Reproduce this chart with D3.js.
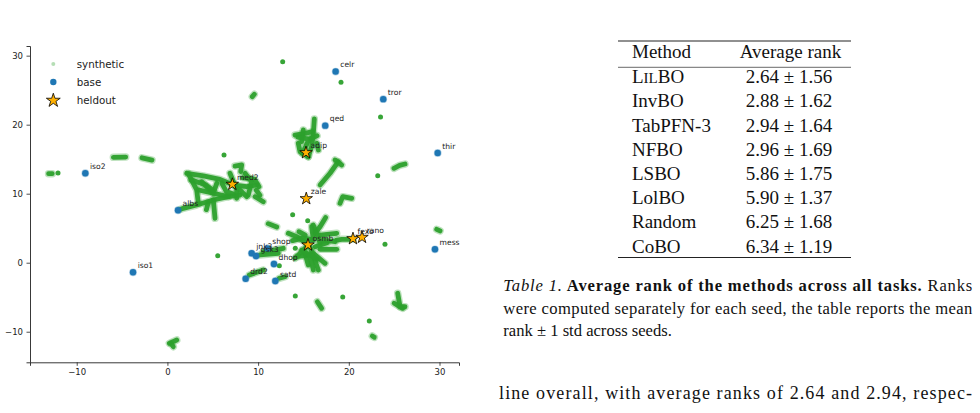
<!DOCTYPE html>
<html><head><meta charset="utf-8">
<script src="https://cdn.jsdelivr.net/npm/d3@7"></script>
<style>body{margin:0;background:#fff}svg{display:block}</style>
</head><body>
<svg id="c" width="980" height="413"></svg>
<script>
// ---------- data ----------
const xTicks = [-10, 0, 10, 20, 30];
const yTicks = [-10, 0, 10, 20, 30];
const legendLabels = ["synthetic", "base", "heldout"];

const baseNames = ["iso2","albs","iso1","celr","tror","qed","thir","mess","jnk3","gsk3","shop","dhop","drd2","satd"];
const baseX = [-9.05, 1.17, -3.79, 18.55, 23.8, 17.4, 29.8, 29.5, 9.29, 9.77, 11.05, 11.75, 8.63, 11.9];
const baseY = [12.96, 7.6, -1.39, 27.7, 23.7, 19.86, 15.9, 1.94, 1.36, 0.97, 2.08, -0.19, -2.32, -2.65];

const heldNames = ["med2","adip","zale","osmb","fexo","rano"];
const heldX = [7.16, 15.28, 15.31, 15.5, 20.46, 21.46];
const heldY = [11.36, 15.94, 9.28, 2.57, 3.48, 3.68];

// synthetic samples, grouped as traces of densely packed points
const synthetic = [
 [[-13.1,12.9],[-12.7,12.9]],
 [[-12.06,13.0]],
 [[-5.96,15.27],[-4.6,15.3]],
 [[-2.8,15.2],[-1.7,14.87]],
 [[6.24,15.6]],
 [[2.13,12.96],[3.96,12.57],[5.8,12.08],[7.27,11.26],[8.74,11.01],[9.85,11.26]],
 [[2.3,12.9],[3.23,10.54],[3.41,8.6]],
 [[1.4,7.7],[1.75,7.88],[3.23,8.36],[5.06,9.09],[6.72,9.57],[8.0,9.81]],
 [[3.41,10.54],[5.06,10.06],[6.72,9.57]],
 [[5.06,9.09],[5.25,6.43]],
 [[3.78,11.74],[5.06,10.06],[5.44,11.5]],
 [[6.9,12.96],[7.64,10.54],[7.64,9.33]],
 [[7.45,14.01],[8.19,14.16],[8.08,13.19]],
 [[8.56,12.96],[9.29,11.74],[8.92,9.81]],
 [[9.66,9.57],[10.57,8.84]],
 [[8.0,10.54],[8.74,9.57]],
 [[2.6,12.0],[4.2,11.3],[5.0,10.5]],
 [[6.0,11.5],[6.5,10.3],[7.2,10.0]],
 [[4.5,8.7],[4.3,7.7]],
 [[8.3,12.3],[9.6,12.1],[10.1,11.0]],
 [[9.8,10.5],[10.2,9.8]],
 [[12.71,29.13]],
 [[19.14,26.14]],
 [[9.36,24.06],[9.58,24.4]],
 [[23.5,21.1]],
 [[16.2,20.83],[16.09,18.75],[15.9,16.81],[15.53,15.36]],
 [[14.07,18.5],[15.17,18.75],[16.0,19.0]],
 [[14.43,17.3],[14.62,16.09],[15.53,15.36]],
 [[14.98,19.23],[14.8,17.54]],
 [[16.46,17.3],[16.64,16.33]],
 [[14.4,18.2],[15.6,17.9],[15.2,16.7],[14.9,15.8]],
 [[15.8,18.0],[16.5,18.4]],
 [[16.83,11.26],[17.93,12.96],[18.84,14.64]],
 [[18.48,14.88],[19.22,14.16]],
 [[23.19,12.61]],
 [[24.98,13.68],[25.6,14.1],[26.2,14.3]],
 [[19.03,8.61],[19.33,9.57],[20.32,9.33]],
 [[13.81,6.95]],
 [[15.47,6.09]],
 [[11.12,5.66],[12.05,5.17]],
 [[13.33,4.26],[14.26,3.77],[15.36,2.81]],
 [[16.09,5.46],[16.46,4.26],[16.83,2.81]],
 [[17.45,6.55],[16.83,5.22],[16.27,4.26]],
 [[16.83,1.94],[18.67,1.94]],
 [[17.19,3.29],[18.48,3.04]],
 [[16.83,4.01],[18.67,4.26]],
 [[15.53,2.57],[14.26,0.87],[14.07,0.64]],
 [[15.72,2.32],[16.64,-1.06]],
 [[16.09,1.36],[17.38,-0.09]],
 [[15.17,1.36],[15.53,-0.33]],
 [[14.26,0.87],[15.72,1.12],[16.09,-1.06]],
 [[13.8,3.2],[15.0,3.6],[16.0,3.3]],
 [[14.8,1.8],[16.5,0.5]],
 [[16.3,2.3],[17.6,2.9]],
 [[14.5,4.5],[15.2,4.0]],
 [[15.9,5.22],[16.09,3.29]],
 [[18.67,3.29],[19.22,3.39],[20.5,3.39]],
 [[10.57,1.59],[11.68,1.84],[12.78,2.09]],
 [[10.21,1.12],[12.23,1.36]],
 [[9.03,-1.78],[10.57,-1.06]],
 [[12.34,-2.26],[12.97,-2.03]],
 [[12.34,-0.43]],
 [[14.1,2.09]],
 [[23.99,2.66]],
 [[29.69,4.84],[30.06,4.6]],
 [[5.55,1.01]],
 [[14.1,-4.83]],
 [[16.53,-5.65],[17.01,-6.61]],
 [[19.33,-4.97]],
 [[25.39,-4.43],[25.65,-6.38],[26.2,-6.38]],
 [[25.0,-5.88],[25.94,-6.61]],
 [[22.26,-8.45]],
 [[22.59,-10.62],[22.81,-10.81]],
 [[0.21,-11.68],[1.03,-11.2]],
 [[0.65,-12.17],[0.4,-11.7]]
];

// table
const methods = ["LILBO","InvBO","TabPFN-3","NFBO","LSBO","LolBO","Random","CoBO"];
const rankMean = [2.64, 2.88, 2.94, 2.96, 5.86, 5.90, 6.25, 6.34];
const rankStd  = [1.56, 1.62, 1.64, 1.69, 1.75, 1.37, 1.68, 1.19];
const tableHeader = ["Method", "Average rank"];
const captionLabel = "Table 1.";
const captionBold = " Average rank of the methods across all tasks.";
const captionRest = [" Ranks", "were computed separately for each seed, the table reports the mean", "rank \u00b1 1 std across seeds."];
const bodyLine = "line overall, with average ranks of 2.64 and 2.94, respec-";

// ---------- chart ----------
const svg = d3.select("#c");
const x = d3.scaleLinear().domain([-15.15, 32.15]).range([30, 459]);
const y = d3.scaleLinear().domain([-14.43, 31.4]).range([362.3, 46]);

const green = "#2ca02c", blue = "#1f77b4", gold = "#ffb000";

const gAx = svg.append("g").attr("font-family", "DejaVu Sans");
const xa = gAx.append("g").attr("transform", `translate(0,${y(-14.43)})`)
  .call(d3.axisBottom(x).tickValues(xTicks).tickSize(3.5).tickPadding(3.5));
const ya = gAx.append("g").attr("transform", `translate(${x(-15.15)},0)`)
  .call(d3.axisLeft(y).tickValues(yTicks).tickSize(3.5).tickPadding(3.5));
[xa, ya].forEach(a => {
  a.selectAll("text").attr("font-size", 8.5).attr("fill", "#222").attr("font-family", "DejaVu Sans");
  a.selectAll("line").attr("stroke", "#222").attr("stroke-width", 0.8);
  a.select(".domain").attr("stroke", "#222").attr("stroke-width", 0.9);
});

// synthetic
const line = d3.line().x(d => x(d[0])).y(d => y(d[1])).curve(d3.curveLinear);
const gs = svg.append("g");
const multi = synthetic.filter(s => s.length > 1);
const single = synthetic.filter(s => s.length === 1).map(s => s[0]);
gs.append("g").selectAll("path").data(multi).join("path")
  .attr("d", line).attr("fill", "none").attr("stroke", green)
  .attr("stroke-width", 7.5).attr("stroke-linecap", "round").attr("stroke-linejoin", "round")
  .attr("opacity", 0.3);
gs.append("g").selectAll("path").data(multi).join("path")
  .attr("d", line).attr("fill", "none").attr("stroke", green)
  .attr("stroke-width", 4.8).attr("stroke-linecap", "round").attr("stroke-linejoin", "round")
  .attr("opacity", 0.95);
gs.append("g").selectAll("circle").data(single).join("circle")
  .attr("cx", d => x(d[0])).attr("cy", d => y(d[1])).attr("r", 2.5).attr("fill", green).attr("opacity", 0.95);

// base
const base = baseNames.map((n, i) => ({n, x: baseX[i], y: baseY[i]}));
svg.append("g").selectAll("circle").data(base).join("circle")
  .attr("cx", d => x(d.x)).attr("cy", d => y(d.y)).attr("r", 3.2)
  .attr("fill", blue).attr("stroke", blue).attr("stroke-opacity", 0.35).attr("stroke-width", 1.4);

// heldout
const held = heldNames.map((n, i) => ({n, x: heldX[i], y: heldY[i]}));
const star = d3.symbol().type(d3.symbolStar).size(48);
svg.append("g").selectAll("path").data(held).join("path")
  .attr("d", star).attr("transform", d => `translate(${x(d.x)},${y(d.y)})`)
  .attr("fill", gold).attr("stroke", "#000").attr("stroke-width", 0.8);

// labels
svg.append("g").attr("font-family", "DejaVu Sans").attr("font-size", 7.6).attr("fill", "#222")
  .selectAll("text").data(base.concat(held)).join("text")
  .attr("x", d => x(d.x) + 4.6).attr("y", d => y(d.y) - 4.4).text(d => d.n);

// legend
const lg = svg.append("g").attr("font-family", "DejaVu Sans").attr("font-size", 10.3).attr("fill", "#222");
const ly = [64, 82, 100.5];
lg.append("circle").attr("cx", 53.3).attr("cy", ly[0]).attr("r", 2).attr("fill", green).attr("opacity", 0.35);
lg.append("circle").attr("cx", 53.3).attr("cy", ly[1]).attr("r", 3.2).attr("fill", blue);
lg.append("path").attr("d", d3.symbol().type(d3.symbolStar).size(60)).attr("transform", `translate(53.3,${ly[2]})`)
  .attr("fill", gold).attr("stroke", "#000").attr("stroke-width", 0.8);
legendLabels.forEach((t, i) => lg.append("text").attr("x", 76.7).attr("y", ly[i] + 3.7).text(t));

// ---------- table ----------
const tb = svg.append("g").attr("font-family", "Liberation Serif, Times New Roman, serif").attr("fill", "#111");
const tl = 618, tr = 851, colM = 632, colV = 789;
tb.append("line").attr("x1", tl).attr("x2", tr).attr("y1", 41).attr("y2", 41).attr("stroke", "#222").attr("stroke-width", 1.2);
tb.append("line").attr("x1", tl).attr("x2", tr).attr("y1", 67.3).attr("y2", 67.3).attr("stroke", "#444").attr("stroke-width", 0.8);
tb.append("line").attr("x1", tl).attr("x2", tr).attr("y1", 257.5).attr("y2", 257.5).attr("stroke", "#222").attr("stroke-width", 1.2);
tb.append("text").attr("x", colM).attr("y", 58.3).attr("font-size", 19).text(tableHeader[0]);
tb.append("text").attr("x", 790.5).attr("y", 58.3).attr("font-size", 19).attr("text-anchor", "middle").text(tableHeader[1]);
const rowY = d3.scaleLinear().domain([0, methods.length - 1]).range([83.3, 252.5]);
methods.forEach((m, i) => {
  const t = tb.append("text").attr("x", colM).attr("y", rowY(i)).attr("font-size", 19);
  if (m === "LILBO") {
    t.append("tspan").text("L");
    t.append("tspan").attr("font-size", 15).text("IL");
    t.append("tspan").text("BO");
  } else t.text(m);
  tb.append("text").attr("x", colV).attr("y", rowY(i)).attr("font-size", 19).attr("text-anchor", "middle")
    .text(rankMean[i].toFixed(2) + " \u00b1 " + rankStd[i].toFixed(2));
});

// caption
const cap = svg.append("g").attr("font-family", "Liberation Serif, Times New Roman, serif").attr("fill", "#111").attr("font-size", 16.6);
const c1 = cap.append("text").attr("x", 503.3).attr("y", 291).attr("textLength", 469).attr("lengthAdjust", "spacing");
c1.append("tspan").attr("font-style", "italic").text(captionLabel);
c1.append("tspan").attr("font-weight", "bold").text(captionBold);
c1.append("tspan").text(captionRest[0]);
cap.append("text").attr("x", 503.3).attr("y", 313.5).attr("textLength", 469).attr("lengthAdjust", "spacing").text(captionRest[1]);
cap.append("text").attr("x", 503.3).attr("y", 336).text(captionRest[2]);
svg.append("text").attr("x", 499).attr("y", 398.5).attr("font-family", "Liberation Serif, Times New Roman, serif")
  .attr("font-size", 18).attr("fill", "#111").attr("textLength", 473).attr("lengthAdjust", "spacing").text(bodyLine);
</script>
</body></html>
